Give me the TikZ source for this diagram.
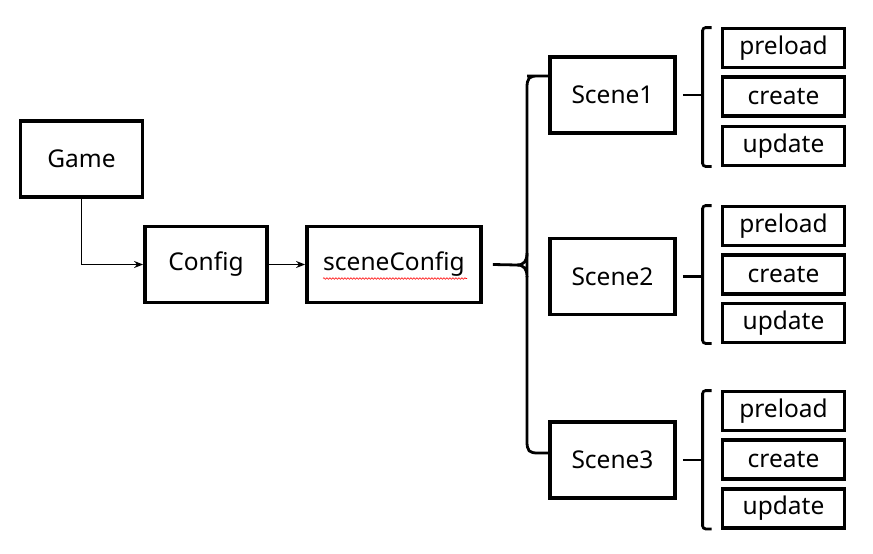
\documentclass[tikz,border=0pt]{standalone}
\usepackage{fontspec}
\setmainfont{Noto Sans}
\usetikzlibrary{arrows.meta,calc,decorations.pathmorphing}
\begin{document}
\begin{tikzpicture}[x=1pt,y=-1pt,
  box/.style={draw=black,line width=3.8pt,inner sep=0pt,font=\fontsize{24.5}{27}\selectfont},
  big/.style={box,minimum width=122pt,minimum height=76pt},
  sub/.style={box,minimum width=122pt,minimum height=39pt},
  arr/.style={line width=1.8pt,-{Stealth[length=9pt,width=7pt]}},
  brc/.style={line width=2.8pt}]
\fill[white] (0,0) rectangle (873,554);
\useasboundingbox (0,0) rectangle (873,554);
\node[big] (game) at (81.5,159) {Game};
\node[big] (config) at (206,264.5) {Config};
\node[big,minimum width=174pt] (scfg) at (394,264.5) {sceneConfig};
\node[big,minimum width=125pt] (s1) at (612.5,95) {Scene1};
\node[big,minimum width=125pt] (s2) at (612.5,276.5) {Scene2};
\node[big,minimum width=125pt] (s3) at (612.5,460) {Scene3};
\node[sub] (p1) at (783.5,48) {preload};
\node[sub] (c1) at (783.5,96.5) {create};
\node[sub] (u1) at (783.5,146) {update};
\node[sub] (p2) at (783.5,226) {preload};
\node[sub] (c2) at (783.5,274.5) {create};
\node[sub] (u2) at (783.5,323) {update};
\node[sub] (p3) at (783.5,411) {preload};
\node[sub] (c3) at (783.5,459.5) {create};
\node[sub] (u3) at (783.5,508.5) {update};
% arrows
\draw[arr] (game.south) |- (config.west);
\draw[arr] (config.east) -- (scfg.west);
% spellcheck squiggle
\draw[red,line width=0.6pt,decorate,decoration={snake,amplitude=0.8pt,segment length=3pt}]
  ([shift={(-71,14)}]scfg.center) -- ([shift={(73,14)}]scfg.center);
% big brace
\coordinate (bv) at (527,265);
\draw[brc] ([yshift=19pt]s1.west) -- ([yshift=19pt]s1.west -| bv) ++(11,0)
  .. controls (529,76) and (527,78) .. (527,88) -- (527,253)
  .. controls (527,261) and (524,265) .. (517,265) -- ([xshift=10pt]scfg.east);
\draw[brc] (527,253) -- (527,277) .. controls (527,269) and (524,265) .. (517,265);
\draw[brc] (527,276) -- (527,441) .. controls (527,451) and (529,453) .. (538,453) -- ([yshift=7pt]s3.west);
\draw[brc] (538,76) -- ([yshift=19pt]s1.west);
% small brackets
\foreach \s/\p/\u in {s1/p1/u1,s2/p2/u2,s3/p3/u3}{
  \draw[brc,rounded corners=3pt] ([xshift=-9pt,yshift=-1pt]\p.north west) -- ([xshift=-18pt,yshift=-1pt]\p.north west)
    -- ([xshift=-18pt,yshift=1pt]\u.south west) -- ([xshift=-9pt,yshift=1pt]\u.south west);
  \coordinate (b) at ([xshift=-18pt]\p.west);
  \draw[brc] ([xshift=6pt]\s.east) -- (b |- \s.east);
}
\end{tikzpicture}
\end{document}
